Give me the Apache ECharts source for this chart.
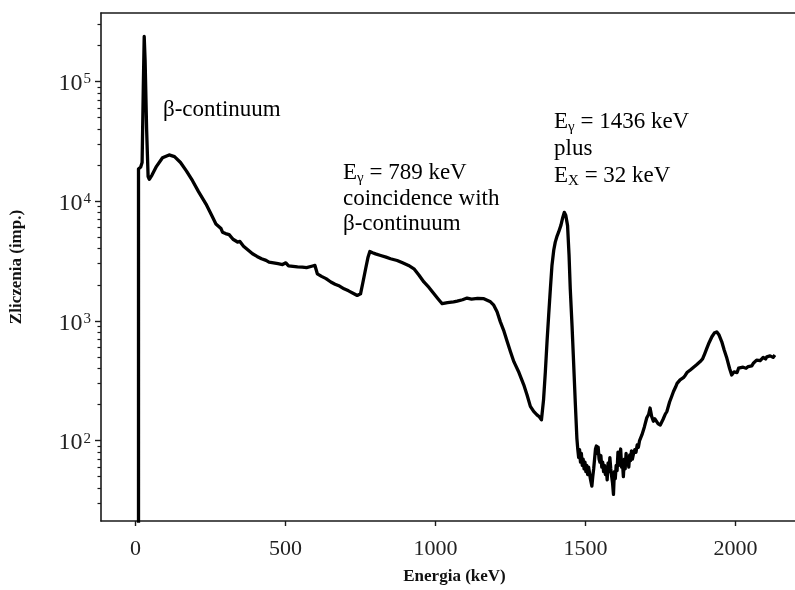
<!DOCTYPE html>
<html>
<head>
<meta charset="utf-8">
<script src="https://cdn.jsdelivr.net/npm/echarts@6/dist/echarts.min.js"></script>
<style>
html,body{margin:0;padding:0;background:#fff;}
#chart{width:795px;height:590px;}
</style>
</head>
<body>
<div id="chart"></div>
<script>
// ---- data ----
const energy = [10,10,17,22,26,29,32,37,42,46,55,70,90,112,130,150,170,190,210,235,255,268,285,290,300,312,325,340,348,360,375,390,405,420,435,445,460,475,490,501,510,525,540,556,570,590,598,606,620,635,651,665,680,695,710,725,739,750,758,767,775,781,790,800,817,835,850,872,890,910,928,945,961,978,994,1008,1022,1040,1060,1072,1090,1105,1120,1140,1161,1183,1194,1205,1216,1228,1239,1250,1261,1278,1294,1305,1316,1327,1338,1346,1353,1360,1366,1372,1377,1383,1388,1394,1399,1405,1410,1418,1424,1429,1434,1440,1445,1449,1455,1460,1466,
  1471,1474,1477,1480,1483,1486,1489,1492,1495,1498,1501,1504,1507,1510,1513,1516,1519,1521,
  1524,1527,1530,1533,1536,1539,1542,1545,1548,1551,1554,1557,1560,1563,1566,1569,1572,1575,1578,1581,1584,1587,1590,1593,1596,1599,1602,1605,1608,1611,1614,1617,1620,1623,1626,1629,1632,1635,1638,1641,1644,1647,1650,1653,1656,
  1660,1664,1668,1672,1676,1680,1684,1688,
  1696,1704,1710,1715,1720,1726,1731,1735,1742,1749,
  1758,1765,1771,1780,1786,1793,1800,1805,1815,1820,
  1826,1832,1838,1844,1849,1855,1860,1866,1870,1876,
  1882,1890,1897,1904,1912,1921,1929,1937,1945,1954,
  1962,1971,1980,1987,1995,2000,2005,2010,2015,2025,
  2030,2035,2042,2048,2054,2060,2066,2070,2076,2082,
  2088,2092,2100,2104,2108,2115,2120,2125,2131];
const counts = [1,18500,19200,21000,90000,237000,150000,40000,16000,15200,16500,19500,23000,24300,23500,21000,17800,14800,12000,9440,7500,6440,5900,5500,5350,5250,4800,4550,4600,4200,3900,3630,3450,3300,3200,3090,3050,3000,2950,3050,2880,2850,2820,2810,2780,2870,2900,2470,2350,2250,2110,2020,1950,1850,1780,1700,1630,1680,2100,2720,3400,3790,3700,3620,3510,3400,3300,3190,3050,2900,2720,2400,2110,1900,1690,1530,1390,1420,1440,1460,1500,1550,1520,1540,1530,1440,1350,1190,980,820,668,550,456,370,292,240,193,175,164,158,149,220,377,700,1110,1900,2900,3900,4540,5100,5500,6300,7300,8050,7600,6240,3500,1850,900,456,200,
  105,85,72,84,66,78,62,70,58,66,55,62,52,60,54,48,44,41.7,
  50,58,70,85,90,78,88,70,66,75,60,66,55,62,52,60,47,65,55,72,58,50,44,35.5,55,48,62,56,80,62,74,85,60,66,50,70,58,78,64,72,60,76,68,82,70,
  78,84,80,92,88,100,98,112,
  130,155,165,187,160,145,152,150,138,135,
  150,165,175,210,230,257,280,300,321,310,
  335,350,370,360,389,400,410,395,430,445,
  457,480,530,589,660,736,790,809,760,668,
  570,486,400,353,375,380,370,402,390,410,
  420,402,415,430,420,445,457,470,480,465,
  470,495,480,500,490,510,501,495,518];
const xTicks = [0, 500, 1000, 1500, 2000];
const yMajorTicks = [100, 1000, 10000, 100000];
const yMinorTicks = [30,40,50,60,70,80,90,200,300,400,500,600,700,800,900,2000,3000,4000,5000,6000,7000,8000,9000,20000,30000,40000,50000,60000,70000,80000,90000,200000,300000];
const xTitle = 'Energia (keV)';
const yTitle = 'Zliczenia (imp.)';

const SERIF = '"Liberation Serif", "Times New Roman", serif';
const INK = '#222';
const xMin = -115, xMax = 2198, yMin = 21.3, yMax = 372000;

const chart = echarts.init(document.getElementById('chart'), null, {renderer: 'canvas'});
const axisLine = {show: true, onZero: false, lineStyle: {color: '#1a1a1a', width: 1.6}};

chart.setOption({
  animation: false,
  backgroundColor: '#fff',
  grid: {left: 100, top: 13, width: 695, height: 510, containLabel: false},
  xAxis: [{
    type: 'value', min: xMin, max: xMax, position: 'bottom',
    axisLine: axisLine,
    axisTick: {show: true, inside: false, length: 5, customValues: xTicks, lineStyle: {color: '#1a1a1a', width: 1.4}},
    axisLabel: {customValues: xTicks, margin: 17, fontFamily: SERIF, fontSize: 22, color: INK,
      formatter: function (v) { return String(v); }},
    splitLine: {show: false},
    name: xTitle, nameLocation: 'middle', nameGap: 47,
    nameTextStyle: {fontFamily: SERIF, fontWeight: 'bold', fontSize: 17, color: '#111', padding: [0, 0, 0, 13]}
  }, {
    type: 'value', min: xMin, max: xMax, position: 'top',
    axisLine: axisLine, axisTick: {show: false}, axisLabel: {show: false}, splitLine: {show: false}
  }],
  yAxis: [{
    type: 'log', logBase: 10, min: yMin, max: yMax, position: 'left',
    axisLine: axisLine,
    axisTick: {show: true, inside: false, length: 6, customValues: yMajorTicks, lineStyle: {color: '#1a1a1a', width: 1.4}},
    axisLabel: {
      customValues: yMajorTicks, margin: 10, padding: [5, 0, 0, 0],
      formatter: function (v) { return '{b|10}{s|' + Math.round(Math.log10(v)) + '}'; },
      rich: {
        b: {fontFamily: SERIF, fontSize: 24, color: INK},
        s: {fontFamily: SERIF, fontSize: 15, color: INK, verticalAlign: 'top', padding: [0, 0, 0, 1]}
      }
    },
    splitLine: {show: false},
    name: yTitle, nameLocation: 'middle', nameGap: 76, nameRotate: 90,
    nameTextStyle: {fontFamily: SERIF, fontWeight: 'bold', fontSize: 17, color: '#111'}
  }, {
    type: 'log', logBase: 10, min: yMin, max: yMax, position: 'left',
    axisLine: {show: false, onZero: false},
    axisTick: {show: true, inside: false, length: 3.5, customValues: yMinorTicks, lineStyle: {color: '#1a1a1a', width: 1.2}},
    axisLabel: {show: false}, splitLine: {show: false}
  }],
  series: [{
    type: 'line',
    xAxisIndex: 0, yAxisIndex: 0,
    data: energy.map((e, i) => [e, counts[i]]),
    showSymbol: false, symbol: 'none',
    lineStyle: {color: '#000', width: 3.3, join: 'round'},
    clip: true
  }],
  graphic: [
    {
      type: 'text', x: 163, y: 97.2,
      style: {
        text: '{t|β-continuum}',
        rich: {t: {fontFamily: SERIF, fontSize: 23, lineHeight: 26, color: '#333'}}
      }
    },
    {
      type: 'text', x: 343, y: 160.4,
      style: {
        text: '{t|E}{g|γ}{t| = 789 keV}\n{t|coincidence with}\n{t|β-continuum}',
        rich: {
          t: {fontFamily: SERIF, fontSize: 23, lineHeight: 25.4, color: '#333'},
          g: {fontFamily: SERIF, fontSize: 15, lineHeight: 15, color: '#333', verticalAlign: 'bottom'}
        }
      }
    },
    {
      type: 'text', x: 554, y: 108,
      style: {
        text: '{t|E}{g|γ}{t| = 1436 keV}\n{t|plus}\n{t|E}{g|X}{t| = 32 keV}',
        rich: {
          t: {fontFamily: SERIF, fontSize: 23, lineHeight: 27, color: '#333'},
          g: {fontFamily: SERIF, fontSize: 15, lineHeight: 15, color: '#333', verticalAlign: 'bottom'}
        }
      }
    }
  ]
});
</script>
</body>
</html>
